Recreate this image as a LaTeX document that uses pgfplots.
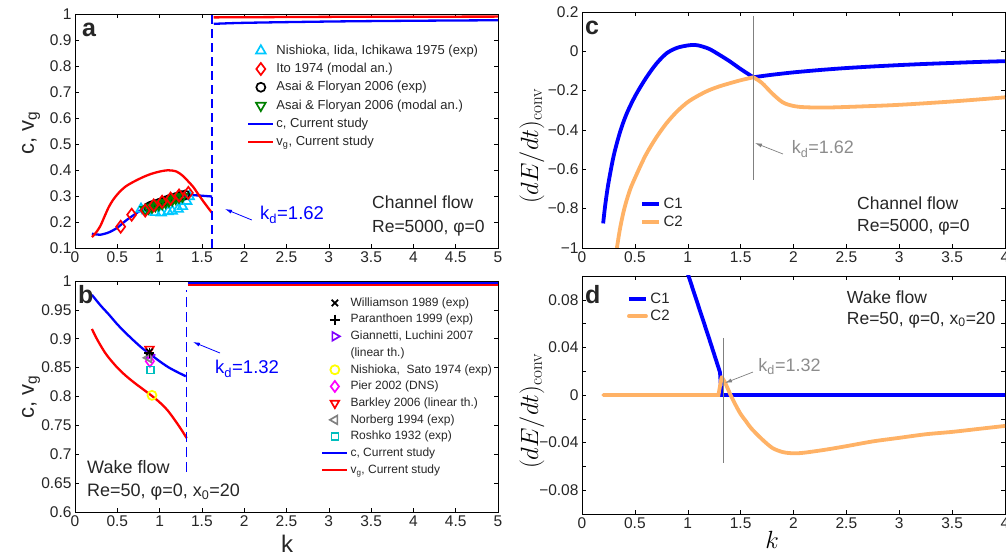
\documentclass[border=0pt]{standalone}
\usepackage{pgfplots}
\pgfplotsset{compat=1.18}
\usepackage[no-math]{fontspec}
\setmainfont{Liberation Sans}
\usetikzlibrary{arrows.meta}

\definecolor{cBlue}{RGB}{0,0,255}
\definecolor{cRed}{RGB}{255,0,0}
\definecolor{cOrange}{RGB}{255,178,102}
\definecolor{cCyan}{RGB}{0,200,255}
\definecolor{cGreen}{RGB}{0,128,0}
\definecolor{cPurple}{RGB}{128,0,255}
\definecolor{cYellow}{RGB}{255,255,0}
\definecolor{cMag}{RGB}{255,0,255}
\definecolor{cTeal}{RGB}{0,190,190}
\definecolor{cGray}{RGB}{128,128,128}
\definecolor{kdGray}{RGB}{140,140,140}
\definecolor{txt}{RGB}{38,38,38}

\newcommand{\fs}[1]{\fontsize{#1}{#1}\selectfont}

\pgfplotsset{
  panel/.style={
    scale only axis,
    axis line style={black, line width=0.9pt},
    tick align=inside,
    major tick length=4pt, minor tick length=4pt,
    xtick pos=both, ytick pos=both,
    xticklabel pos=lower, yticklabel pos=left,
    tick style={black, line width=0.5pt},
    ticklabel style={font=\fs{15.5}, text=txt},
    /pgf/number format/assume math mode=true,
    legend cell align=left,
  },
  lineleg/.style={legend image code/.code={\draw[##1] (0pt,0pt) -- (25pt,0pt);}},
  markleg/.style={legend image code/.code={\draw[##1, only marks] plot coordinates {(12.5pt,0pt)};}},
}

\begin{document}
\begin{tikzpicture}
\useasboundingbox (0,0) rectangle (1006pt,556pt);

% ---------------- panel a
\begin{axis}[panel, at={(75pt,308pt)}, anchor=south west, width=423pt, height=234pt,
  xmin=0, xmax=5, ymin=0.1, ymax=1,
  xtick={0,0.5,1,1.5,2,2.5,3,3.5,4,4.5,5},
  ytick={0.1,0.2,0.3,0.4,0.5,0.6,0.7,0.8,0.9,1},
  legend style={at={(0.4066,0.874)}, anchor=north west, draw=none, fill=none,
    font=\fs{13}, text=txt, inner sep=0pt, row sep=4.3pt,
    nodes={inner xsep=2pt, inner ysep=1pt, text height=9.5pt, text depth=2.5pt}},
]
\addplot[cBlue, line width=2.3pt, smooth, forget plot] coordinates {
  (0.2,0.155)(0.25,0.152)(0.3,0.151)(0.4,0.16)(0.5,0.178)(0.6,0.205)(0.7,0.228)
  (0.8,0.25)(0.9,0.265)(1.0,0.277)(1.1,0.287)(1.2,0.295)(1.3,0.301)(1.4,0.303)
  (1.5,0.301)(1.62,0.298)};
\addplot[cRed, line width=2.3pt, smooth, forget plot] coordinates {
  (0.2,0.142)(0.25,0.16)(0.3,0.185)(0.35,0.222)(0.4,0.258)(0.45,0.285)(0.5,0.306)
  (0.55,0.323)(0.6,0.337)(0.65,0.347)(0.7,0.356)(0.8,0.372)(0.9,0.385)(1.0,0.394)
  (1.1,0.399)(1.2,0.394)(1.28,0.376)(1.35,0.352)(1.4,0.334)(1.45,0.31)(1.52,0.278)
  (1.57,0.256)(1.62,0.235)};
\addplot[cRed, line width=2.3pt, forget plot] coordinates {(1.64,0.987)(3,0.989)(5,0.99)};
\addplot[cBlue, line width=2.3pt, smooth, forget plot] coordinates {(1.64,0.962)(2,0.966)(3,0.971)(4,0.974)(5,0.976)};
\addplot[cBlue, line width=1.3pt, dash pattern=on 9pt off 5pt, forget plot] coordinates {(1.62,0.1)(1.62,1.0)};
% experiments
\addplot[only marks, mark=triangle, mark size=5.5pt, cCyan, line width=1.7pt, forget plot] coordinates {
  (0.78,0.25)(0.85,0.243)(0.95,0.237)(1.02,0.235)(1.1,0.24)(1.15,0.242)(1.22,0.25)
  (1.27,0.26)(1.32,0.28)(1.35,0.298)};
\addplot[only marks, mark=o, mark size=4.5pt, black, line width=1.7pt, forget plot] coordinates {
  (0.87,0.257)(0.9,0.262)(0.94,0.266)(0.98,0.27)(1.02,0.275)(1.06,0.28)(1.1,0.285)
  (1.14,0.289)(1.18,0.293)(1.22,0.297)(1.26,0.301)(1.3,0.304)};
\addplot[only marks, mark=triangle, mark size=5.5pt, mark options={rotate=180}, cGreen, line width=1.7pt, forget plot] coordinates {
  (0.83,0.247)(0.87,0.252)(0.91,0.257)(0.95,0.262)(0.99,0.266)(1.03,0.27)(1.07,0.275)
  (1.11,0.28)(1.15,0.285)(1.19,0.29)(1.23,0.294)(1.27,0.298)};
\addplot[only marks, mark=diamond, mark size=6pt, cRed, line width=1.7pt, forget plot] coordinates {
  (0.54,0.182)(0.67,0.228)(0.83,0.244)(0.93,0.264)(1.03,0.278)(1.13,0.29)(1.23,0.302)(1.34,0.312)};

\addlegendimage{markleg, mark=triangle, mark size=5.5pt, cCyan, line width=1.7pt}
\addlegendentry{Nishioka, Iida, Ichikawa 1975 (exp)}
\addlegendimage{markleg, mark=diamond, mark size=6pt, cRed, line width=1.7pt}
\addlegendentry{Ito 1974 (modal an.)}
\addlegendimage{markleg, mark=o, mark size=4.5pt, black, line width=1.7pt}
\addlegendentry{Asai \& Floryan 2006 (exp)}
\addlegendimage{markleg, mark=triangle, mark size=5.5pt, mark options={rotate=180}, cGreen, line width=1.7pt}
\addlegendentry{Asai \& Floryan 2006 (modal an.)}
\addlegendimage{lineleg, cBlue, line width=2.3pt}
\addlegendentry{c, Current study}
\addlegendimage{lineleg, cRed, line width=2.3pt}
\addlegendentry{v\textsubscript{g}, Current study}

\draw[cBlue, line width=0.8pt, -{Latex[length=7pt,width=4pt]}] (axis cs:2.09,0.2077) -- (axis cs:1.773,0.25);
\node[anchor=base west, font=\fs{18.5}, text=cBlue, inner sep=0pt] at (axis cs:2.187,0.2077) {k\textsubscript{d}=1.62};
\node[anchor=base west, font=\fs{17.5}, text=txt, inner sep=0pt] at (axis cs:3.51,0.25) {Channel flow};
\node[anchor=base west, font=\fs{17.5}, text=txt, inner sep=0pt] at (axis cs:3.51,0.1577) {Re=5000, φ=0};
\node[anchor=base west, font=\bfseries\fs{25}, text=txt, inner sep=0pt] at (axis cs:0.083,0.913) {a};
\end{axis}

% ---------------- panel b
\begin{axis}[panel, at={(75pt,44pt)}, anchor=south west, width=423pt, height=231pt,
  xmin=0, xmax=5, ymin=0.6, ymax=1,
  xtick={0,0.5,1,1.5,2,2.5,3,3.5,4,4.5,5},
  ytick={0.6,0.65,0.7,0.75,0.8,0.85,0.9,0.95,1},
  yticklabels={0.6,0.65,0.7,0.75,0.8,0.85,0.9,0.95,1},
  legend style={at={(0.5816,0.935)}, anchor=north west, draw=none, fill=none,
    font=\fs{12}, text=txt, inner sep=0pt, row sep=3.2pt,
    nodes={inner xsep=2pt, inner ysep=1pt, text height=9pt, text depth=2.5pt}},
]
\addplot[cBlue, line width=2.3pt, smooth, forget plot] coordinates {
  (0.2,0.976)(0.3,0.958)(0.4,0.942)(0.5,0.925)(0.6,0.91)(0.7,0.896)(0.8,0.883)
  (0.9,0.872)(1.0,0.861)(1.1,0.851)(1.2,0.843)(1.31,0.835)};
\addplot[cRed, line width=2.3pt, smooth, forget plot] coordinates {
  (0.2,0.917)(0.25,0.902)(0.3,0.889)(0.35,0.877)(0.4,0.867)(0.5,0.85)(0.6,0.836)
  (0.7,0.824)(0.8,0.813)(0.9,0.802)(1.0,0.79)(1.1,0.775)(1.2,0.755)(1.26,0.742)(1.32,0.728)};
\addplot[cRed, line width=2.3pt, forget plot] coordinates {(1.33,0.9926)(5,0.9926)};
\addplot[cBlue, line width=2.3pt, forget plot] coordinates {(1.33,0.9965)(5,0.9965)};
\addplot[cBlue, line width=1.3pt, dash pattern=on 10pt off 5pt, forget plot] coordinates {(1.32,0.67)(1.32,0.985)};
% experiments
\addplot[only marks, mark=triangle, mark size=5pt, mark options={rotate=180}, cRed, line width=1.7pt, forget plot] coordinates {(0.88,0.882)};
\addplot[only marks, mark=triangle, mark size=5pt, mark options={rotate=-90}, cPurple, line width=1.7pt, forget plot] coordinates {(0.88,0.872)};
\addplot[only marks, mark=diamond, mark size=5.5pt, cMag, line width=1.7pt, forget plot] coordinates {(0.885,0.861)};
\addplot[only marks, mark=triangle, mark size=5pt, mark options={rotate=90}, cGray, line width=1.7pt, forget plot] coordinates {(0.87,0.867)};
\addplot[only marks, mark=square, mark size=3.5pt, cTeal, line width=1.7pt, forget plot] coordinates {(0.89,0.846)};
\addplot[only marks, mark=o, mark size=4.5pt, cYellow, line width=1.8pt, forget plot] coordinates {(0.91,0.802)};
\addplot[only marks, mark=+, mark size=5pt, black, line width=1.8pt, forget plot] coordinates {(0.88,0.876)};
\addplot[only marks, mark=x, mark size=4.5pt, black, line width=1.8pt, forget plot] coordinates {(0.88,0.877)};

\addlegendimage{markleg, mark=x, mark size=4.5pt, black, line width=1.8pt}
\addlegendentry{Williamson 1989 (exp)}
\addlegendimage{markleg, mark=+, mark size=5pt, black, line width=1.8pt}
\addlegendentry{Paranthoen 1999 (exp)}
\addlegendimage{markleg, mark=triangle, mark size=5pt, mark options={rotate=-90}, cPurple, line width=1.7pt}
\addlegendentry{Giannetti, Luchini 2007}
\addlegendimage{empty legend}
\addlegendentry{(linear th.)}
\addlegendimage{markleg, mark=o, mark size=4.5pt, cYellow, line width=1.8pt}
\addlegendentry{Nishioka,\ \ Sato 1974 (exp)}
\addlegendimage{markleg, mark=diamond, mark size=5.5pt, cMag, line width=1.7pt}
\addlegendentry{Pier 2002 (DNS)}
\addlegendimage{markleg, mark=triangle, mark size=5pt, mark options={rotate=180}, cRed, line width=1.7pt}
\addlegendentry{Barkley 2006 (linear th.)}
\addlegendimage{markleg, mark=triangle, mark size=5pt, mark options={rotate=90}, cGray, line width=1.7pt}
\addlegendentry{Norberg 1994 (exp)}
\addlegendimage{markleg, mark=square, mark size=3.5pt, cTeal, line width=1.7pt}
\addlegendentry{Roshko 1932 (exp)}
\addlegendimage{lineleg, cBlue, line width=2.3pt}
\addlegendentry{c, Current study}
\addlegendimage{lineleg, cRed, line width=2.3pt}
\addlegendentry{v\textsubscript{g}, Current study}

\draw[cBlue, line width=0.8pt, -{Latex[length=7pt,width=4pt]}] (axis cs:1.714,0.8753) -- (axis cs:1.395,0.8944);
\node[anchor=base west, font=\fs{18.5}, text=cBlue, inner sep=0pt] at (axis cs:1.655,0.839) {k\textsubscript{d}=1.32};
\node[anchor=base west, font=\fs{18}, text=txt, inner sep=0pt] at (axis cs:0.142,0.6658) {Wake flow};
\node[anchor=base west, font=\fs{18}, text=txt, inner sep=0pt] at (axis cs:0.142,0.6265) {Re=50, φ=0, x\textsubscript{0}=20};
\node[anchor=base west, font=\bfseries\fs{25}, text=txt, inner sep=0pt] at (axis cs:0.035,0.961) {b};
\end{axis}

% ---------------- panel c
\begin{axis}[panel, at={(582pt,308pt)}, anchor=south west, width=423pt, height=236pt,
  xmin=0, xmax=4, ymin=-1, ymax=0.2,
  xtick={0,0.5,1,1.5,2,2.5,3,3.5,4},
  ytick={-1,-0.8,-0.6,-0.4,-0.2,0,0.2},
  yticklabels={−1,−0.8,−0.6,−0.4,−0.2,0,0.2},
  legend style={at={(0.137,0.22)}, anchor=north west, draw=none, fill=none,
    font=\fs{15}, text=txt, inner sep=0pt, row sep=2pt,
    nodes={inner xsep=2.5pt, inner ysep=1pt, text height=11pt, text depth=3pt}},
]
\addplot[cBlue, line width=3.8pt, smooth] coordinates {
  (0.2,-0.875)(0.22,-0.78)(0.25,-0.67)(0.3,-0.53)(0.36,-0.41)(0.42,-0.32)(0.5,-0.23)
  (0.6,-0.14)(0.7,-0.065)(0.8,-0.01)(0.9,0.018)(1.0,0.03)(1.05,0.032)(1.1,0.03)
  (1.2,0.013)(1.3,-0.018)(1.4,-0.052)(1.5,-0.09)(1.62,-0.132)};
\addplot[cOrange, line width=3.8pt, smooth] coordinates {
  (0.33,-1.0)(0.36,-0.9)(0.4,-0.8)(0.45,-0.71)(0.5,-0.645)(0.6,-0.53)(0.7,-0.44)
  (0.8,-0.365)(0.9,-0.305)(1.0,-0.258)(1.1,-0.225)(1.2,-0.198)(1.3,-0.178)(1.4,-0.162)
  (1.5,-0.147)(1.62,-0.132)};
\legend{C1,C2}
\addplot[cBlue, line width=3.8pt, smooth, forget plot] coordinates {
  (1.62,-0.132)(1.7,-0.126)(1.8,-0.119)(2.0,-0.107)
  (2.25,-0.095)(2.5,-0.085)(2.75,-0.077)(3.0,-0.07)(3.25,-0.064)(3.5,-0.059)
  (3.75,-0.054)(4.0,-0.05)};
\addplot[cOrange, line width=3.8pt, smooth, forget plot] coordinates {
  (1.62,-0.132)(1.7,-0.16)(1.8,-0.215)(1.9,-0.26)(2.0,-0.278)(2.1,-0.284)
  (2.3,-0.286)(2.6,-0.281)(3.0,-0.272)(3.5,-0.255)(4.0,-0.234)};
\addplot[cGray, line width=0.7pt, forget plot] coordinates {(1.62,0.18)(1.62,-0.654)};
\draw[cGray, line width=0.7pt, -{Latex[length=7pt,width=4pt]}] (axis cs:1.90,-0.522) -- (axis cs:1.636,-0.466);
\node[anchor=base west, font=\fs{18}, text=kdGray, inner sep=0pt] at (axis cs:1.983,-0.522) {k\textsubscript{d}=1.62};
\node[anchor=base west, font=\fs{17.5}, text=txt, inner sep=0pt] at (axis cs:2.60,-0.803) {Channel flow};
\node[anchor=base west, font=\fs{17.5}, text=txt, inner sep=0pt] at (axis cs:2.60,-0.917) {Re=5000, φ=0};
\node[anchor=base west, font=\bfseries\fs{25}, text=txt, inner sep=0pt] at (axis cs:0.028,0.0866) {c};
\end{axis}

% ---------------- panel d
\begin{axis}[panel, at={(582pt,42pt)}, anchor=south west, width=423pt, height=238pt,
  xmin=0, xmax=4, ymin=-0.1, ymax=0.1,
  xtick={0,0.5,1,1.5,2,2.5,3,3.5,4},
  ytick={-0.08,-0.04,0,0.04,0.08},
  yticklabels={−0.08,−0.04,0,0.04,0.08},
  minor ytick={-0.06,-0.02,0.02,0.06},
  legend style={at={(0.106,0.937)}, anchor=north west, draw=none, fill=none,
    font=\fs{15}, text=txt, inner sep=0pt, row sep=1pt,
    nodes={inner xsep=2.5pt, inner ysep=1pt, text height=11pt, text depth=3pt}},
]
\addplot[cBlue, line width=3.8pt] coordinates {
  (0.95,0.115)(1.0,0.102)(1.1,0.075)(1.2,0.048)(1.305,0.019)(1.318,0.0)(2,0)(3,0)(4,0)};
\addplot[cOrange, line width=3.8pt, line cap=round] coordinates {
  (0.2,0)(0.7,0)(1.29,0)(1.32,0.015)};
\legend{C1,C2}
\addplot[cOrange, line width=3.8pt, line cap=round, smooth, forget plot] coordinates {
  (1.32,0.015)(1.35,0.011)(1.38,0.005)(1.41,-0.001)(1.45,-0.008)(1.5,-0.016)
  (1.55,-0.022)(1.6,-0.028)(1.7,-0.037)(1.8,-0.0445)(1.9,-0.048)(2.0,-0.049)
  (2.1,-0.0485)(2.3,-0.046)(2.5,-0.043)(2.75,-0.039)(3.0,-0.036)(3.25,-0.033)
  (3.5,-0.031)(3.75,-0.0285)(4.0,-0.026)};
\addplot[cGray, line width=0.7pt, forget plot] coordinates {(1.335,0.048)(1.335,-0.057)};
\draw[cGray, line width=0.7pt, -{Latex[length=7pt,width=4pt]}] (axis cs:1.617,0.0193) -- (axis cs:1.352,0.0101);
\node[anchor=base west, font=\fs{18}, text=kdGray, inner sep=0pt] at (axis cs:1.667,0.0196) {k\textsubscript{d}=1.32};
\node[anchor=base west, font=\fs{17.5}, text=txt, inner sep=0pt] at (axis cs:2.503,0.077) {Wake flow};
\node[anchor=base west, font=\fs{17.5}, text=txt, inner sep=0pt] at (axis cs:2.503,0.0594) {Re=50, φ=0, x\textsubscript{0}=20};
\node[anchor=base west, font=\bfseries\fs{25}, text=txt, inner sep=0pt] at (axis cs:0.028,0.077) {d};
\end{axis}

% ---------------- axis titles
\node[rotate=90, font=\fs{22}, text=txt] at (31pt,423pt) {c, v\textsubscript{g}};
\node[rotate=90, font=\fs{22}, text=txt] at (31pt,159pt) {c, v\textsubscript{g}};
\node[font=\fs{24}, text=txt] at (287pt,12pt) {k};
\node[rotate=90, font=\fs{26}] at (532pt,410pt) {$(dE/dt)_{\mathrm{conv}}$};
\node[rotate=90, font=\fs{26}] at (532pt,145pt) {$(dE/dt)_{\mathrm{conv}}$};
\node[font=\fs{26}] at (772pt,16pt) {$k$};
\end{tikzpicture}
\end{document}
